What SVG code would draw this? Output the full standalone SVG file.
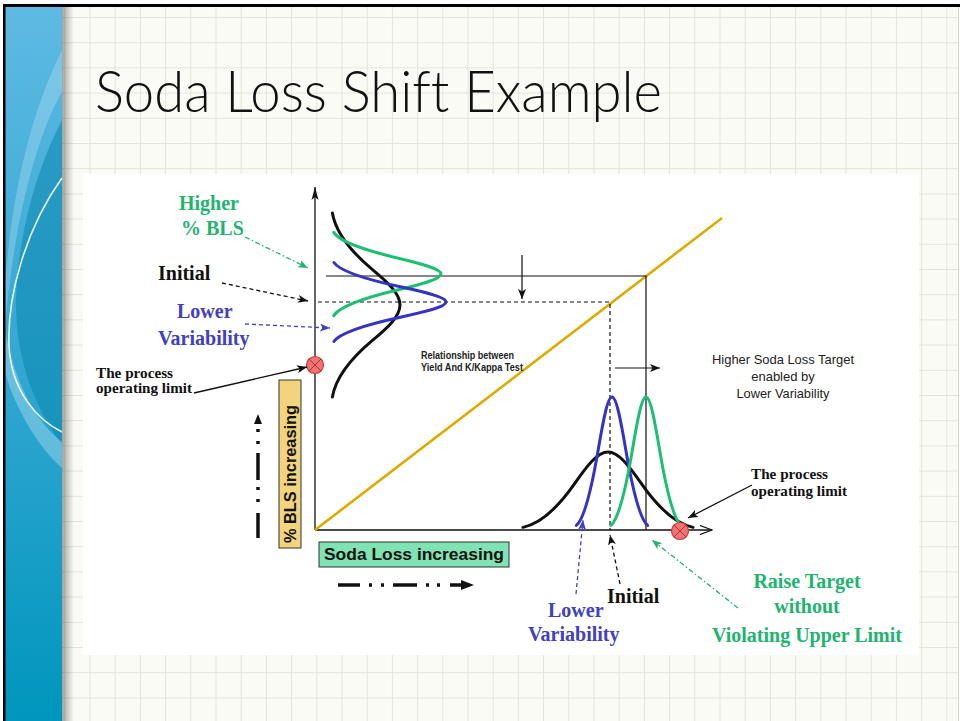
<svg xmlns="http://www.w3.org/2000/svg" xmlns:xlink="http://www.w3.org/1999/xlink" width="960" height="721" viewBox="0 0 960 721">
  <style>
    .serif { font-family: "Liberation Serif", "Times New Roman", serif; font-weight: bold; }
    .sans { font-family: "Liberation Sans", Arial, sans-serif; }
    .green { fill: #22B36E; }
    .blue { fill: #4040C0; }
    .ink { fill: #111111; }
    .lbl { font-size: 20px; }
    .small { font-size: 15px; }
    .curve { fill: none; stroke-width: 3; stroke-linecap: round; }
    .axis { fill: none; stroke: #111111; stroke-width: 1.3; }
    .guide { fill: none; stroke: #111111; stroke-width: 1.2; }
    .dash { stroke-dasharray: 4 3; }
    .thin { fill: none; stroke-width: 1.3; }
    .limit { fill: #F07474; stroke: #C83A3A; stroke-width: 1.2; }
    .heavy { stroke: #111111; stroke-width: 3.5; fill: none; }
    .heading { font-family: Lato, "Liberation Sans", Arial, sans-serif; font-weight: 300; font-variant-ligatures: none; font-feature-settings: "liga" 0; }
  </style>
  <defs>
    <pattern id="grid" patternUnits="userSpaceOnUse" x="89.5" y="17" width="25.2" height="25.2">
      <path d="M0,0.5 H25.2 M0.5,0 V25.2" stroke="#E4E4DC" stroke-width="1" fill="none"/>
    </pattern>
    <linearGradient id="band" x1="0" y1="0" x2="0" y2="1">
      <stop offset="0" stop-color="#5EBAE3"/>
      <stop offset="0.45" stop-color="#38A9D4"/>
      <stop offset="1" stop-color="#0096BD"/>
    </linearGradient>
    <linearGradient id="shade" x1="0" y1="0" x2="1" y2="0">
      <stop offset="0" stop-color="#000000" stop-opacity="0.35"/>
      <stop offset="1" stop-color="#000000" stop-opacity="0"/>
    </linearGradient>
    <!-- unit bell curve: x in sigma units, y = -density (peak at -1) -->
    <path id="bell" vector-effect="non-scaling-stroke" d="M-2.6,-0.034 C-2.067,-0.081 -1.533,-0.2832 -1,-0.6065 C-0.667,-0.8087 -0.333,-1 0,-1 C0.333,-1 0.667,-0.8087 1,-0.6065 C1.533,-0.2832 2.067,-0.081 2.6,-0.034"/>
    <marker id="ak" markerUnits="userSpaceOnUse" markerWidth="11" markerHeight="8" refX="10" refY="4" orient="auto">
      <path d="M0,0 L10,4 L0,8 L2.5,4 Z" fill="#111111"/>
    </marker>
    <marker id="ag" markerUnits="userSpaceOnUse" markerWidth="11" markerHeight="8" refX="10" refY="4" orient="auto">
      <path d="M0,0 L10,4 L0,8 L2.5,4 Z" fill="#22B36E"/>
    </marker>
    <marker id="ab" markerUnits="userSpaceOnUse" markerWidth="11" markerHeight="8" refX="10" refY="4" orient="auto">
      <path d="M0,0 L10,4 L0,8 L2.5,4 Z" fill="#4040C0"/>
    </marker>
    <marker id="axisHead" markerUnits="userSpaceOnUse" markerWidth="14" markerHeight="10" refX="13" refY="5" orient="auto">
      <path d="M1,0.5 L13,5 L1,9.5" fill="none" stroke="#111111" stroke-width="1.3"/>
    </marker>
    <marker id="axisTip" markerUnits="userSpaceOnUse" markerWidth="14" markerHeight="8" refX="13" refY="4" orient="auto">
      <path d="M0,0.5 L13,4 L0,7.5 L3,4 Z" fill="#111111"/>
    </marker>
  </defs>

  <!-- page background with grid -->
  <rect x="0" y="0" width="960" height="721" fill="#FFFFFF"/>
  <rect x="5" y="6" width="953" height="715" fill="#FBFBF6"/>
  <rect x="5" y="6" width="953" height="715" fill="url(#grid)"/>
  <line x1="958.5" y1="6" x2="958.5" y2="721" stroke="#D8D8D0" stroke-width="1"/>

  <!-- left decorative band -->
  <g id="sidebar">
    <rect x="5" y="6" width="57" height="715" fill="url(#band)"/>
    <path d="M62,120 C36,170 18,235 16,300 C15,360 36,410 62,445 Z" fill="#0A86AE" opacity="0.55"/>
    <path d="M62,50 C32,110 12,190 5,285 L5,330 C12,235 34,140 62,92 Z" fill="#FFFFFF" opacity="0.22"/>
    <path d="M5,330 C16,390 40,425 62,442 L62,468 C36,445 14,405 5,372 Z" fill="#FFFFFF" opacity="0.28"/>
    <path d="M62,178 C26,228 7,296 9,345 C11,392 38,420 62,432" fill="none" stroke="#FFFFFF" stroke-width="1.6" opacity="0.9"/>
    <rect x="62" y="6" width="12" height="715" fill="url(#shade)"/>
  </g>

  <!-- frame edges -->
  <rect x="3" y="4" width="957" height="3" fill="#000000"/>
  <rect x="3" y="4" width="2.5" height="717" fill="#000000"/>

  <!-- title -->
  <g id="title">
    <text class="heading" x="95" y="112" font-size="57" fill="#111111" textLength="567" lengthAdjust="spacingAndGlyphs">Soda Loss Shift Example</text>
  </g>

  <!-- chart panel -->
  <rect x="83" y="174" width="836" height="481" fill="#FFFFFF"/>

  <g id="chart">
    <!-- axes -->
    <line class="axis" x1="315" y1="530" x2="315" y2="187" marker-end="url(#axisTip)"/>
    <line class="axis" x1="315" y1="530" x2="712" y2="530" marker-end="url(#axisHead)"/>
    <!-- yield relationship line -->
    <line x1="315" y1="530" x2="722" y2="218" stroke="#DDAA00" stroke-width="2.6"/>
    <!-- guide lines -->
    <polyline class="guide" points="326,276 646,276 646,530"/>
    <polyline class="guide dash" points="318,302 610,302 610,530"/>
  </g>

  <!-- vertical distributions on the %BLS axis -->
  <g id="bls-curves">
    <use href="#bell" xlink:href="#bell" class="curve" stroke="#111111" transform="matrix(0,35.4,-70,0,330,305)"/>
    <use href="#bell" xlink:href="#bell" class="curve" stroke="#1DBF73" transform="matrix(0,16,-111,0,330,274)"/>
    <use href="#bell" xlink:href="#bell" class="curve" stroke="#3434C4" transform="matrix(0,15.2,-116,0,330,302)"/>
  </g>

  <!-- horizontal distributions on the soda loss axis -->
  <g id="soda-curves">
    <use href="#bell" xlink:href="#bell" class="curve" stroke="#111111" transform="matrix(32.7,0,0,78,608,530)"/>
    <use href="#bell" xlink:href="#bell" class="curve" stroke="#3434C4" transform="matrix(13.7,0,0,133,612,530)"/>
    <use href="#bell" xlink:href="#bell" class="curve" stroke="#1DBF73" transform="matrix(13.5,0,0,133,646,530)"/>
  </g>

  <!-- operating limit markers -->
  <g id="limit-bls">
    <circle class="limit" cx="315" cy="365" r="8.5"/>
    <path d="M309,359 L321,371 M321,359 L309,371" stroke="#B03030" stroke-width="1"/>
  </g>
  <g id="limit-soda">
    <circle class="limit" cx="680" cy="531" r="8.5"/>
    <path d="M674,525 L686,537 M686,525 L674,537" stroke="#B03030" stroke-width="1"/>
  </g>

  <!-- axis captions -->
  <g id="bls-caption">
    <rect x="279" y="380" width="22" height="168" fill="#F2D37E" stroke="#333333" stroke-width="1"/>
    <text class="sans" transform="translate(296,474) rotate(-90)" text-anchor="middle" font-size="16" font-weight="bold" fill="#111111" textLength="138" lengthAdjust="spacingAndGlyphs">% BLS increasing</text>
  </g>
  <g id="soda-caption">
    <rect x="319" y="542" width="190" height="25" fill="#7FE3B4" stroke="#333333" stroke-width="1"/>
    <text class="sans" x="414" y="560" text-anchor="middle" font-size="16.5" font-weight="bold" fill="#111111" textLength="180" lengthAdjust="spacingAndGlyphs">Soda Loss increasing</text>
  </g>

  <!-- labels -->
  <g id="label-higher-bls">
    <text class="serif lbl green" x="179" y="210">Higher</text>
    <text class="serif lbl green" x="181" y="235">% BLS</text>
  </g>
  <g id="label-initial-bls">
    <text class="serif lbl ink" x="158" y="280">Initial</text>
  </g>
  <g id="label-lower-bls">
    <text class="serif lbl blue" x="177" y="318">Lower</text>
    <text class="serif lbl blue" x="158" y="345">Variability</text>
  </g>
  <g id="label-limit-bls">
    <text class="serif small ink" x="96" y="378" textLength="77" lengthAdjust="spacingAndGlyphs">The process</text>
    <text class="serif small ink" x="96" y="393" textLength="96" lengthAdjust="spacingAndGlyphs">operating limit</text>
  </g>
  <g id="label-relationship">
    <text class="sans" x="421" y="359" font-size="10" font-weight="bold" fill="#222222" textLength="93" lengthAdjust="spacingAndGlyphs">Relationship between</text>
    <text class="sans" x="421" y="371" font-size="10" font-weight="bold" fill="#222222" textLength="102" lengthAdjust="spacingAndGlyphs">Yield And K/Kappa Test</text>
  </g>
  <g id="label-target">
    <text class="sans" x="783" y="364" text-anchor="middle" font-size="13" fill="#222222" textLength="142" lengthAdjust="spacingAndGlyphs">Higher Soda Loss Target</text>
    <text class="sans" x="783" y="381" text-anchor="middle" font-size="13" fill="#222222">enabled by</text>
    <text class="sans" x="783" y="398" text-anchor="middle" font-size="13" fill="#222222" textLength="93" lengthAdjust="spacingAndGlyphs">Lower Variability</text>
  </g>
  <g id="label-limit-soda">
    <text class="serif small ink" x="751" y="479" textLength="77" lengthAdjust="spacingAndGlyphs">The process</text>
    <text class="serif small ink" x="751" y="496" textLength="96" lengthAdjust="spacingAndGlyphs">operating limit</text>
  </g>
  <g id="label-raise">
    <text class="serif lbl green" x="807" y="588" text-anchor="middle">Raise Target</text>
    <text class="serif lbl green" x="807" y="613" text-anchor="middle">without</text>
    <text class="serif lbl green" x="807" y="642" text-anchor="middle">Violating Upper Limit</text>
  </g>
  <g id="label-initial-soda">
    <text class="serif lbl ink" x="607" y="603">Initial</text>
  </g>
  <g id="label-lower-soda">
    <text class="serif lbl blue" x="548" y="617">Lower</text>
    <text class="serif lbl blue" x="528" y="641">Variability</text>
  </g>

  <!-- connectors -->
  <g id="connectors">
    <!-- shift arrows -->
    <line class="guide" x1="522" y1="255" x2="522" y2="299" marker-end="url(#ak)"/>
    <line class="guide" x1="615" y1="368" x2="660" y2="368" marker-end="url(#ak)"/>
    <!-- label pointers on the %BLS side -->
    <line class="thin" stroke="#22B36E" stroke-dasharray="5 2.5 1.5 2.5" x1="245" y1="237" x2="308" y2="268" marker-end="url(#ag)"/>
    <line class="thin dash" stroke="#111111" x1="222" y1="283" x2="308" y2="301" marker-end="url(#ak)"/>
    <line class="thin dash" stroke="#4040C0" x1="245" y1="324" x2="330" y2="328" marker-end="url(#ab)"/>
    <line class="thin" stroke="#111111" x1="194" y1="393" x2="307" y2="367" marker-end="url(#ak)"/>
    <!-- label pointers on the soda loss side -->
    <line class="thin dash" stroke="#4040C0" x1="576" y1="594" x2="583" y2="520" marker-end="url(#ab)"/>
    <line class="thin dash" stroke="#111111" x1="620" y1="584" x2="610" y2="535" marker-end="url(#ak)"/>
    <line class="thin" stroke="#22B36E" stroke-dasharray="5 2.5 1.5 2.5" x1="738" y1="608" x2="652" y2="540" marker-end="url(#ag)"/>
    <line class="thin" stroke="#111111" x1="752" y1="485" x2="688" y2="518" marker-end="url(#ak)"/>
    <!-- direction arrows beside the captions -->
    <g id="bls-direction">
      <line class="heavy" x1="258" y1="538" x2="258" y2="513"/>
      <line class="heavy" x1="258" y1="502" x2="258" y2="499"/>
      <line class="heavy" x1="258" y1="490" x2="258" y2="487"/>
      <line class="heavy" x1="258" y1="480" x2="258" y2="453"/>
      <line class="heavy" x1="258" y1="444" x2="258" y2="441"/>
      <line class="heavy" x1="258" y1="432" x2="258" y2="429"/>
      <path d="M254,424 L258,414 L262,424 Z" fill="#111111"/>
    </g>
    <g id="soda-direction">
      <line class="heavy" x1="338" y1="585" x2="360" y2="585"/>
      <line class="heavy" x1="369" y1="585" x2="372" y2="585"/>
      <line class="heavy" x1="381" y1="585" x2="384" y2="585"/>
      <line class="heavy" x1="393" y1="585" x2="417" y2="585"/>
      <line class="heavy" x1="426" y1="585" x2="429" y2="585"/>
      <line class="heavy" x1="437" y1="585" x2="440" y2="585"/>
      <line class="heavy" x1="450" y1="585" x2="463" y2="585"/>
      <path d="M461,580 L474,585 L461,590 Z" fill="#111111"/>
    </g>
  </g>
</svg>
